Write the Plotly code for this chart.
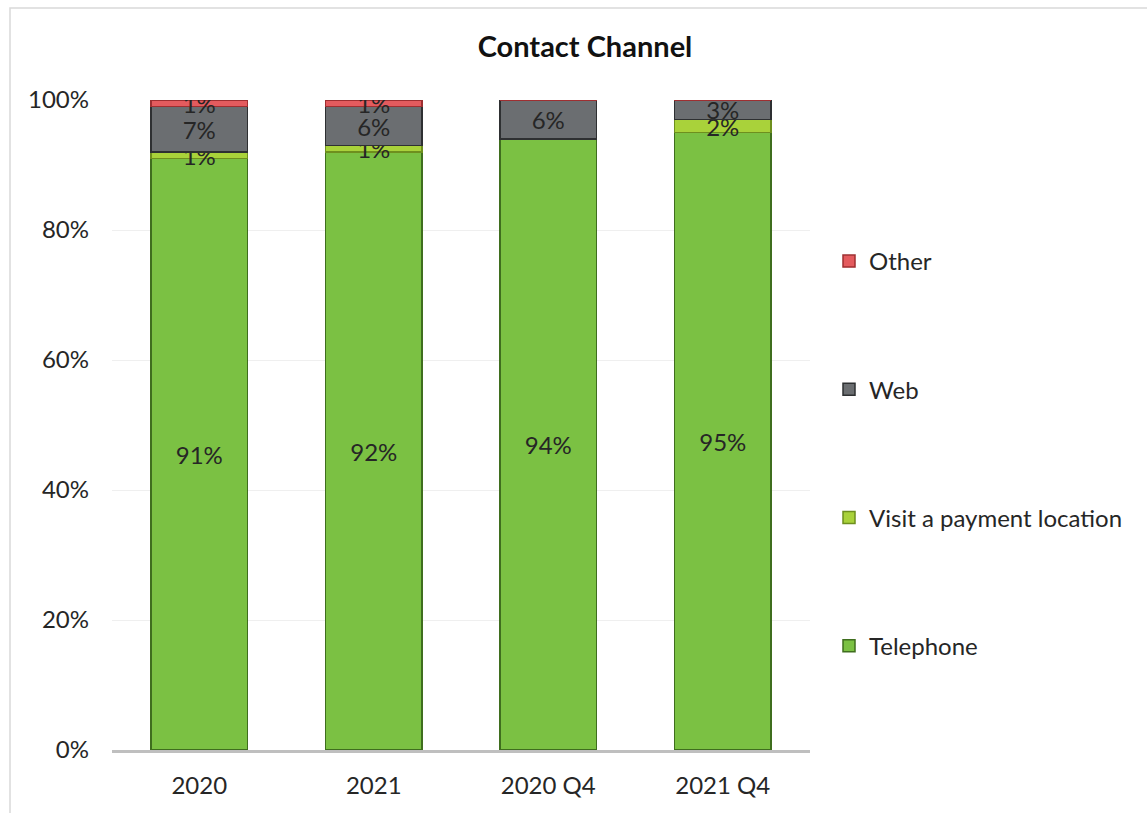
import plotly.graph_objects as go

categories = ["2020", "2021", "2020 Q4", "2021 Q4"]
telephone = [91, 92, 94, 95]
visit = [1, 1, 0, 2]
web = [7, 6, 6, 3]
other = [1, 1, 0, 0]

series = [
    ("Telephone", telephone, "#7BC143", "#3F6E1E"),
    ("Visit a payment location", visit, "#A9D23A", "#6E8F1E"),
    ("Web", web, "#6B6E71", "#2E3032"),
    ("Other", other, "#E45B5E", "#9E2F31"),
]

W, H = 1147, 813
L, R, T, B = 112, 337, 100, 63
FONT = "Lato, sans-serif"

fig = go.Figure()
for i, (name, vals, color, edge) in enumerate(series):
    fig.add_trace(go.Bar(
        x=categories, y=vals, name=name,
        marker=dict(color=color, line=dict(color=edge, width=1.5)),
        text=[f"{v}%" if v else "" for v in vals],
        textposition="inside", insidetextanchor="middle",
        constraintext="none", textangle=0,
        textfont=dict(size=24, color="#262626", family=FONT),
        legendgroup=name, legendrank=len(series) - i,
    ))

pw = W - L - R
ph = H - T - B
# thin light frame around the whole chart area
fig.add_shape(type="rect", xref="paper", yref="paper",
              x0=(10 - L) / pw, x1=(W + 5 - L) / pw,
              y0=-(B + 5) / ph, y1=(H - B - 8) / ph,
              line=dict(color="#D9D9D9", width=1.5), fillcolor="rgba(0,0,0,0)", layer="below")

fig.update_layout(
    width=W, height=H,
    margin=dict(l=L, r=R, t=T, b=B),
    barmode="stack", bargap=0.445,
    paper_bgcolor="white", plot_bgcolor="white",
    font=dict(family=FONT, size=24, color="#262626"),
    title=dict(text="<b>Contact Channel</b>", x=585 / W, xanchor="center",
               y=1 - 47 / H, yanchor="middle", font=dict(size=29, color="#111111")),
    legend=dict(x=(829 - L) / pw, xanchor="left", y=(H - B - 239) / ph, yanchor="top",
                traceorder="grouped", tracegroupgap=94,
                font=dict(size=24), itemwidth=30, bgcolor="rgba(0,0,0,0)"),
    xaxis=dict(showline=True, linecolor="#BFBFBF", linewidth=2.5, ticks="",
               tickfont=dict(size=24), ticklabelstandoff=12),
    yaxis=dict(range=[0, 100], dtick=20, ticksuffix="%", showgrid=True,
               gridcolor="#EFEFEF", gridwidth=1, zeroline=False,
               tickfont=dict(size=24), ticklabelstandoff=22),
    showlegend=True,
)

fig.write_html("out.html")
